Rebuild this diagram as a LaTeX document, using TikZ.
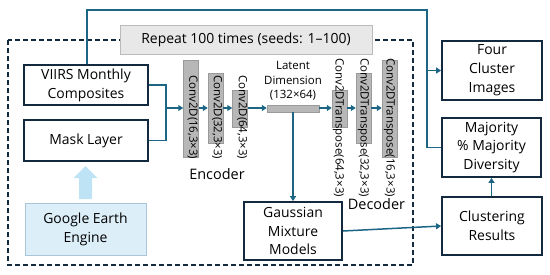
\documentclass[tikz,border=0pt]{standalone}
\usepackage{fontspec}
\setmainfont{Open Sans}
\usetikzlibrary{arrows.meta,positioning}
\definecolor{teal}{HTML}{1D6584}
\definecolor{navy}{HTML}{13293D}
\definecolor{barfill}{HTML}{B7B7B7}
\definecolor{barline}{HTML}{9A9A9A}
\definecolor{gee}{HTML}{DCEEF8}
\definecolor{geeline}{HTML}{A9C6D8}
\definecolor{uparrow}{HTML}{BDE3F5}
\definecolor{rep}{HTML}{E8E8E8}
\definecolor{repline}{HTML}{BBBBBB}
\begin{document}
\begin{tikzpicture}[x=1bp,y=-1bp,
  box/.style={draw=navy,line width=1.8bp,fill=white,align=center,inner sep=0pt,font=\fontsize{14}{19}\selectfont},
  bar/.style={draw=barline,fill=barfill,line width=0.5bp,inner sep=0pt,minimum width=15bp},
  bartext/.style={rotate=-90,anchor=west,inner sep=0pt,font=\fontsize{11.5}{13}\selectfont},
  conn/.style={draw=teal,line width=1.5bp},
  arr/.style={conn,-{Triangle[length=5bp,width=6bp]}},
  lbl/.style={font=\fontsize{14.5}{19}\selectfont,inner sep=0pt}
]
\useasboundingbox (0,0) rectangle (550,274);
% dashed repeat region
\draw[navy,line width=1.4bp,dash pattern=on 5bp off 3bp] (8,40) rectangle (413,265);
\node[draw=repline,fill=rep,line width=0.8bp,minimum width=252bp,minimum height=29bp,inner sep=0pt,font=\fontsize{14}{18}\selectfont] (repeat) at (246,39.5) {Repeat 100 times (seeds: 1–100)};
% input boxes
\node[box,minimum width=124bp,minimum height=40bp] (viirs) at (86,85) {VIIRS Monthly\\Composites};
\node[box,minimum width=124bp,minimum height=41bp] (mask) at (86,140.5) {Mask Layer};
\node[draw=geeline,fill=gee,line width=0.8bp,minimum width=121bp,minimum height=52bp,align=center,inner sep=0pt,font=\fontsize{14}{19}\selectfont] (gee) at (85.5,229) {Google Earth\\Engine};
% block up arrow
\fill[uparrow] (79,199) -- (79,178) -- (73.5,178) -- (85.5,166) -- (97.5,178) -- (92,178) -- (92,199) -- cycle;
% encoder bars
\node[bar,minimum height=97bp] (e1) at (191,108.5) {};
\node[bar,minimum height=70bp] (e2) at (215.5,108) {};
\node[bar,minimum height=37bp] (e3) at (240,108.5) {};
\node[bartext] (e1t) at (192.5,75) {Conv2D(16,3×3)};
\node[bartext] (e2t) at (217,75) {Conv2D(32,3×3)};
\node[bartext] (e3t) at (242,75) {Conv2D(64,3×3)};
% latent
\node[draw=barline,fill=barfill,line width=0.5bp,minimum width=52bp,minimum height=7bp,inner sep=0pt] (lat) at (293,108.5) {};
\node[align=center,inner sep=0pt,font=\fontsize{11.5}{14.5}\selectfont] (latt) at (293,81) {Latent\\Dimension\\(132×64)};
% decoder bars
\node[bar,minimum height=37bp] (d1) at (339.5,108.5) {};
\node[bar,minimum height=70bp] (d2) at (363.5,108) {};
\node[bar,minimum height=97bp] (d3) at (389.5,108.5) {};
\node[bartext] (d1t) at (338.5,58) {Conv2DTranspose(64,3×3)};
\node[bartext] (d2t) at (363.5,58) {Conv2DTranspose(32,3×3)};
\node[bartext] (d3t) at (389.5,58) {Conv2DTranspose(16,3×3)};
\node[lbl] (enc) at (217,174.5) {Encoder};
\node[lbl] (dec) at (376.5,204) {Decoder};
% GMM
\node[box,minimum width=98bp,minimum height=58bp] (gmm) at (293,231) {Gaussian\\Mixture\\Models};
% right boxes
\node[box,minimum width=100bp,minimum height=59bp] (four) at (492,70.5) {Four\\Cluster\\Images};
\node[box,minimum width=99bp,minimum height=59bp] (maj) at (491.5,147.5) {Majority\\\% Majority\\Diversity};
\node[box,minimum width=100bp,minimum height=58bp] (clus) at (492,226) {Clustering\\Results};
% connectors
\coordinate (join) at (166,108);
\draw[conn] (viirs.east) -| (join);
\draw[conn] (mask.east) -| (join);
\draw[arr] (join) -- (e1.west |- join);
\draw[arr] (e1.east |- join) -- (e2.west |- join);
\draw[arr] (e2.east |- join) -- (e3.west |- join);
\draw[arr] (e3.east |- join) -- (lat.west |- join);
\draw[arr] (lat.east |- join) -- (d1.west |- join);
\draw[arr] (d1.east |- join) -- (d2.west |- join);
\draw[arr] (d2.east |- join) -- (d3.west |- join);
\draw[arr] (lat.south) -- (gmm.north);
\draw[arr] (gmm.east) -- (clus.west);
\draw[arr] (clus.north -| maj.south) -- (maj.south);
\coordinate (tl) at (87,10);
\coordinate (tr) at (427,10);
\coordinate (br) at (427,147.5);
\draw[conn] (viirs.north -| tl) -- (tl) -- (tr) -- (br) -- (maj.west);
\draw[arr] (four.west -| tr) -- (four.west);
\end{tikzpicture}
\end{document}
